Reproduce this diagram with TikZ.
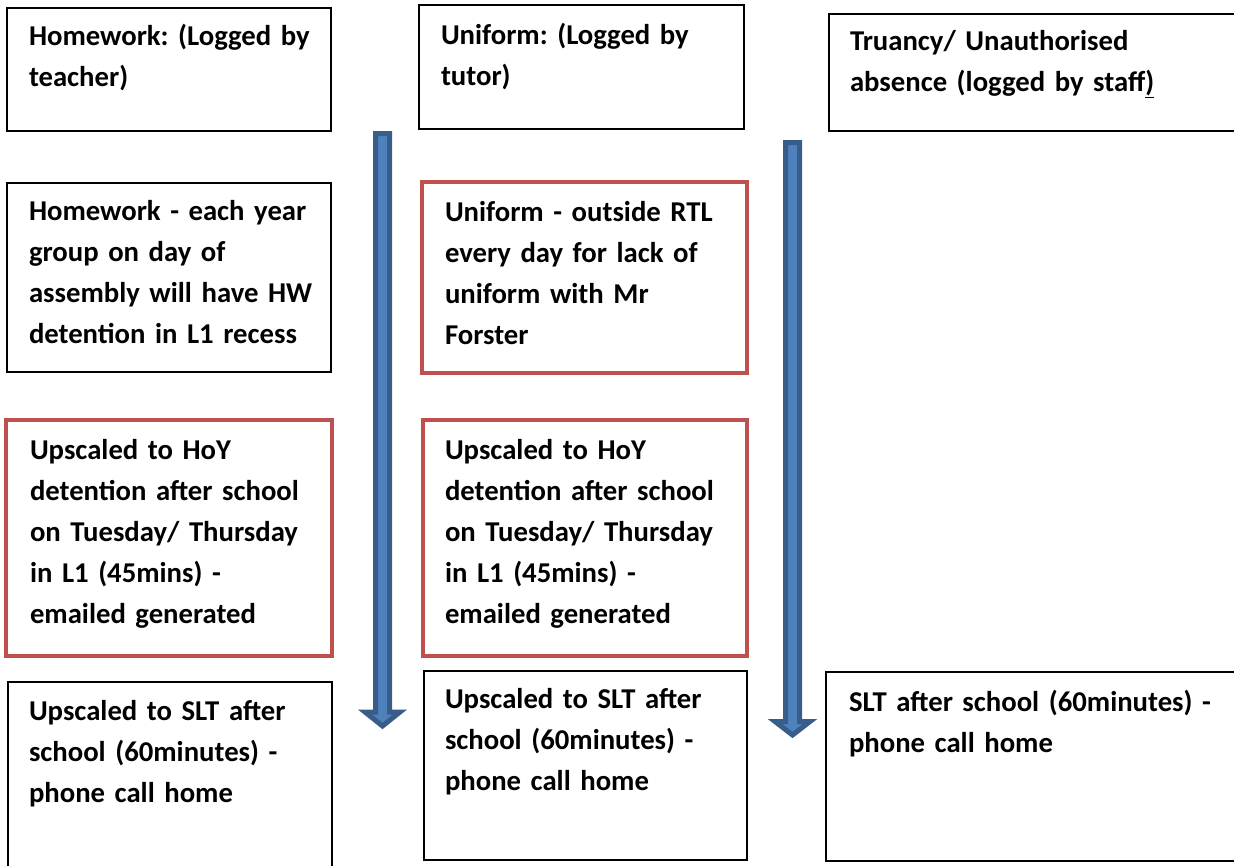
\documentclass[tikz,border=0pt]{standalone}
\usepackage{fontspec}
\setmainfont{Carlito}
\definecolor{redline}{HTML}{C0504D}
\definecolor{arrowfill}{HTML}{4F81BD}
\definecolor{arrowline}{HTML}{385D8A}
\hfuzz=80pt
\newcommand{\tl}[1]{\mbox{#1}}
\begin{document}
\begin{tikzpicture}[x=1pt,y=-1pt,
  every node/.style={inner ysep=0pt, outer sep=0pt, anchor=north west, align=left,
    font=\fontsize{28.7}{41}\selectfont\bfseries\frenchspacing},
  plainbox/.style={draw=black, line width=2pt},
  redbox/.style={draw=redline, line width=4.5pt},
  downarrow/.style={fill=arrowfill, draw=arrowline, line width=5pt, line join=miter}]
\useasboundingbox (0,0) rectangle (1234,865);

% top row
\node[plainbox, inner xsep=22pt, text width=280pt, text height=37pt, text depth=86pt] (hwlog) at (7,8)
  {\tl{Homework: (Logged by}\\\tl{teacher)}};
\node[plainbox, inner xsep=22pt, text width=281pt, text height=39pt, text depth=85pt] (unlog) at (419,5)
  {\tl{Uniform: (Logged by}\\\tl{tutor)}};
\node[plainbox, inner xsep=21pt, text width=378pt, text height=36pt, text depth=81pt] (trlog) at (829,14)
  {\tl{Truancy/ Unauthorised}\\\tl{absence (logged by staff\underline{)}}};

% second row
\node[plainbox, inner xsep=22pt, text width=280pt, text height=37pt, text depth=152pt] (hwdet) at (7,183)
  {\tl{Homework - each year}\\\tl{group on day of}\\\tl{assembly will have HW}\\\tl{detention in L1 recess}};
\node[redbox, inner xsep=23pt, text width=279pt, text height=39pt, text depth=152pt] (undet) at (422,182)
  {\tl{Uniform - outside RTL}\\\tl{every day for lack of}\\\tl{uniform with Mr}\\\tl{Forster}};

% third row
\node[redbox, inner xsep=24pt, text width=278pt, text height=39pt, text depth=197pt] (hwhoy) at (6,420)
  {\tl{Upscaled to HoY}\\\tl{detention after school}\\\tl{on Tuesday/ Thursday}\\\tl{in L1 (45mins) -}\\\tl{emailed generated}};
\node[redbox, inner xsep=22pt, text width=280pt, text height=39pt, text depth=197pt] (unhoy) at (423,420)
  {\tl{Upscaled to HoY}\\\tl{detention after school}\\\tl{on Tuesday/ Thursday}\\\tl{in L1 (45mins) -}\\\tl{emailed generated}};

% bottom row
\node[plainbox, inner xsep=21pt, text width=282pt, text height=38pt, text depth=162pt] (hwslt) at (8,682)
  {\tl{Upscaled to SLT after}\\\tl{school (60minutes) -}\\\tl{phone call home}};
\node[plainbox, inner xsep=21pt, text width=281pt, text height=37pt, text depth=152pt] (unslt) at (424,671)
  {\tl{Upscaled to SLT after}\\\tl{school (60minutes) -}\\\tl{phone call home}};
\node[plainbox, inner xsep=23pt, text width=374pt, text height=39pt, text depth=150pt] (trslt) at (826,672)
  {\tl{SLT after school (60minutes) -}\\\tl{phone call home}};

% arrows
\draw[downarrow] (375.5,133.5) -- (389.5,133.5) -- (389.5,712) -- (400,712)
  -- (382.5,726) -- (365,712) -- (375.5,712) -- cycle;
\draw[downarrow] (785.5,142.5) -- (799.5,142.5) -- (799.5,721.5) -- (810,721.5)
  -- (792.5,735) -- (775,721.5) -- (785.5,721.5) -- cycle;
\end{tikzpicture}
\end{document}
